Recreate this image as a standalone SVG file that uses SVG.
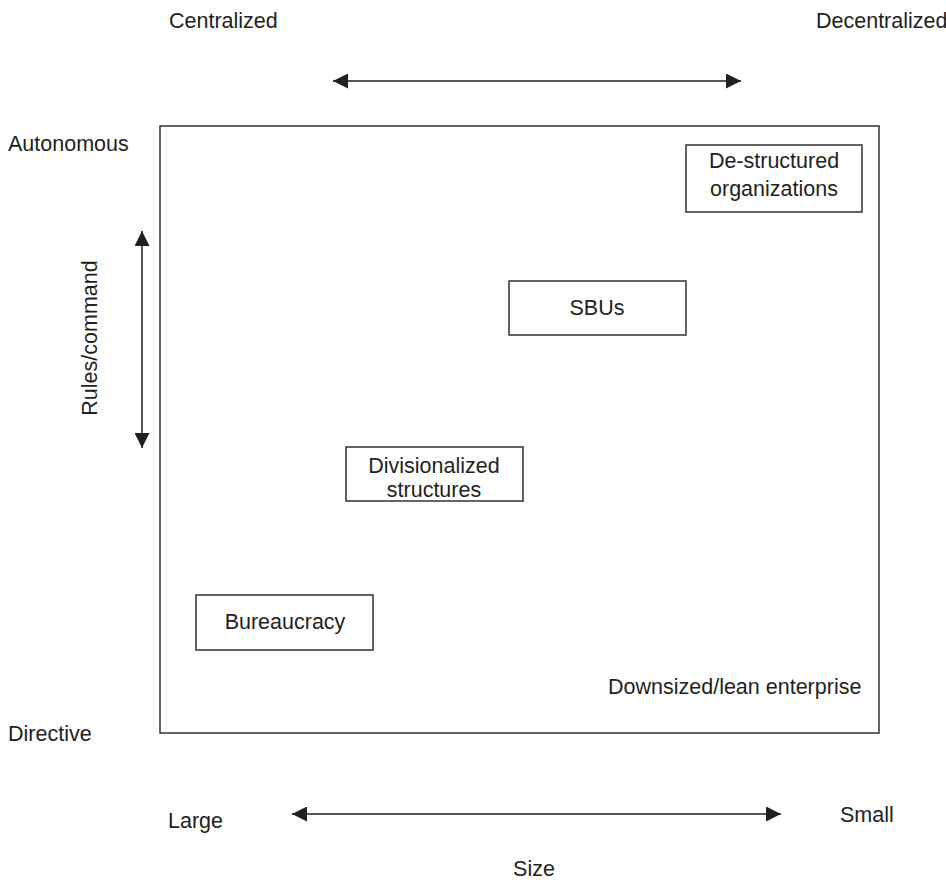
<svg xmlns="http://www.w3.org/2000/svg" width="946" height="884" viewBox="0 0 946 884">
<style>
text{font-family:"Liberation Sans",Arial,Helvetica,sans-serif;font-size:21.5px;fill:#231f20}
.c{text-anchor:middle}
.box{fill:#fff;stroke:#333;stroke-width:1.5}
.ax{stroke:#555;stroke-width:2;fill:none}
</style>
<defs>
<marker id="ah" markerWidth="15" markerHeight="15" refX="15" refY="7.5" orient="auto-start-reverse" markerUnits="userSpaceOnUse">
<path d="M0,0 L15,7.5 L0,15 Z" fill="#231f20"/>
</marker>
</defs>
<rect width="946" height="884" fill="#fff"/>
<rect id="frame" x="160" y="126" width="719" height="607" fill="none" stroke="#333" stroke-width="1.5"/>
<g id="connectors">
<line class="ax" x1="333" y1="81" x2="741" y2="81" marker-start="url(#ah)" marker-end="url(#ah)"/>
<line class="ax" x1="142" y1="231" x2="142" y2="448" marker-start="url(#ah)" marker-end="url(#ah)"/>
<line class="ax" x1="292" y1="814" x2="781" y2="814" marker-start="url(#ah)" marker-end="url(#ah)"/>
</g>
<g id="labels">
<text x="169" y="28">Centralized</text>
<text x="816" y="28">Decentralized</text>
<text x="8" y="151">Autonomous</text>
<text x="8" y="741">Directive</text>
<text x="168" y="828">Large</text>
<text x="840" y="822">Small</text>
<text class="c" x="534" y="876">Size</text>
<text x="608" y="694">Downsized/lean enterprise</text>
<text class="c" transform="translate(97,338) rotate(-90)">Rules/command</text>
</g>
<g id="destructured">
<rect class="box" x="686" y="145" width="176" height="67"/>
<text class="c" x="774" y="168">De-structured</text>
<text class="c" x="774" y="196">organizations</text>
</g>
<g id="sbus">
<rect class="box" x="509" y="281" width="177" height="54"/>
<text class="c" x="597" y="315">SBUs</text>
</g>
<g id="divisionalized">
<rect class="box" x="346" y="447" width="177" height="54"/>
<text class="c" x="434" y="473">Divisionalized</text>
<text class="c" x="434" y="497">structures</text>
</g>
<g id="bureaucracy">
<rect class="box" x="196" y="595" width="177" height="55"/>
<text class="c" x="285" y="629">Bureaucracy</text>
</g>
</svg>
